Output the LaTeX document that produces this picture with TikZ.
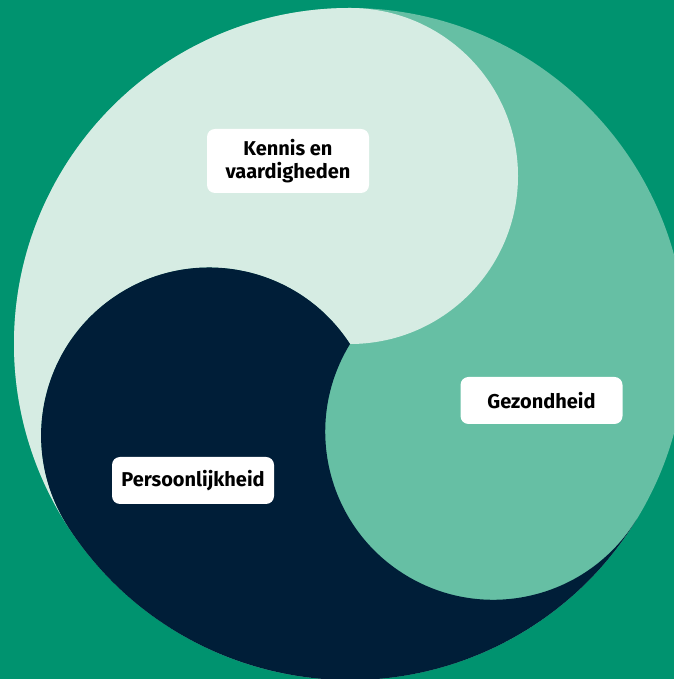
\documentclass[tikz,border=0pt]{standalone}
\usepackage{fontspec}
\setmainfont{Fira Sans}
\definecolor{bggreen}{HTML}{00936F}
\definecolor{midgreen}{HTML}{66BFA4}
\definecolor{lightgreen}{HTML}{D6ECE3}
\definecolor{navy}{HTML}{001E38}
\begin{document}
\begin{tikzpicture}[x=1pt,y=1pt,
  labelbox/.style={fill=white, rounded corners=8pt, minimum width=162pt,
    align=center, inner sep=0pt, text=black,
    font=\fontsize{20}{23}\selectfont\bfseries}]
  \useasboundingbox (0,0) rectangle (674,679);
  \clip (0,0) rectangle (674,679);
  \fill[bggreen] (0,0) rectangle (674,679);
  \coordinate (O) at (350,335);
  % big circle = green region
  \fill[midgreen] (O) circle[radius=336pt];
  % light region
  \fill[lightgreen] (O) ++(90:336pt)
    arc[start angle=90, end angle=213, radius=336pt]
    arc[start angle=213, end angle=33, radius=168pt]
    arc[start angle=-90, end angle=90, radius=168pt] -- cycle;
  % dark region
  \fill[navy] (O) ++(213:336pt)
    arc[start angle=213, end angle=328.5, radius=336pt]
    arc[start angle=328.5, end angle=148.5, radius=168pt]
    arc[start angle=33, end angle=213, radius=168pt] -- cycle;
  % labels
  \node[labelbox, minimum height=64pt] (kennis) at (288,518) {Kennis en\\vaardigheden};
  \node[labelbox, minimum height=47pt] (gezond) at (541.5,278.5) {Gezondheid};
  \node[labelbox, minimum height=47pt] (persoon) at (193,198.5) {Persoonlijkheid};
\end{tikzpicture}
\end{document}
